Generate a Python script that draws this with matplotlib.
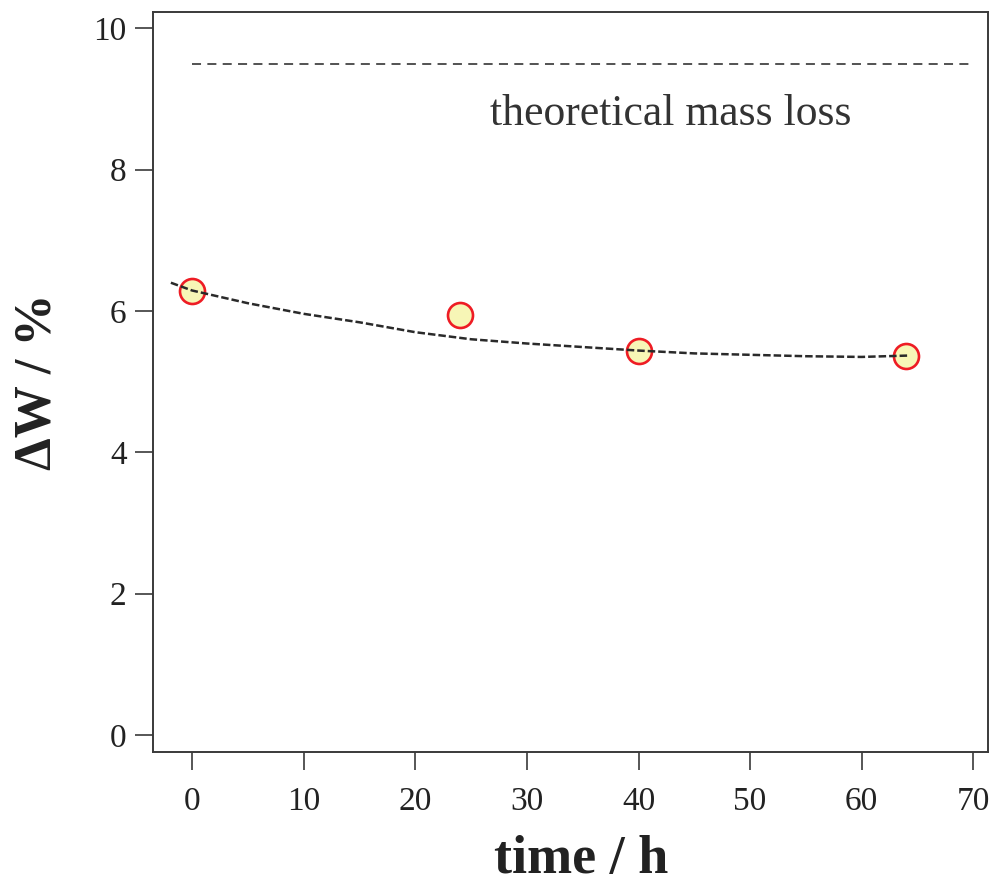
import matplotlib
matplotlib.use("Agg")
import matplotlib.pyplot as plt

# measured mass loss
time_h = [0, 24, 40, 64]
mass_loss = [6.28, 5.95, 5.43, 5.36]

# fitted trend
fit_time = [-1.9, 0, 5, 10, 15, 20, 25, 30, 35, 40, 45, 50, 55, 60, 64.3]
fit_loss = [6.40, 6.29, 6.11, 5.96, 5.84, 5.70, 5.60, 5.54, 5.49, 5.44, 5.40, 5.38, 5.36, 5.35, 5.37]

# theoretical value
theo_time = [0, 70]
theo_loss = [9.5, 9.5]

x_ticks = [0, 10, 20, 30, 40, 50, 60, 70]
y_ticks = [0, 2, 4, 6, 8, 10]

plt.rcParams["font.family"] = ["Liberation Serif", "DejaVu Serif"]

fig = plt.figure(figsize=(9.95, 8.84), dpi=100)
ax = fig.add_axes([0.1538, 0.1493, 0.839, 0.8371])

edge = "#3a3a3a"
ax.plot(theo_time, theo_loss, color="#444444", lw=1.3, dashes=(5, 3.5))
ax.plot(fit_time, fit_loss, color="#2a2a2a", lw=1.8, dashes=(3, 1.2), zorder=3)
ax.plot(time_h, mass_loss, "o", ms=18, mfc="#f7f6b6", mec="#ee1c24", mew=1.9, zorder=2)

ax.text(42.9, 8.63, "theoretical mass loss", fontsize=31.5, color="#333333",
        ha="center", va="baseline")

ax.set_xlim(-3.5, 71.3)
ax.set_ylim(-0.24, 10.23)
ax.set_xticks(x_ticks)
ax.set_yticks(y_ticks)

for s in ax.spines.values():
    s.set_color(edge)
    s.set_linewidth(1.4)
ax.tick_params(direction="out", length=13, width=1.2, color=edge,
               labelsize=24, labelcolor="#222222")
ax.tick_params(axis="x", pad=12)
ax.tick_params(axis="y", pad=6)

ax.set_xlabel("time / h", fontsize=39, fontweight="bold", color="#222222")
ax.set_ylabel("ΔW / %", fontsize=37.5, fontweight="bold", color="#222222")
ax.xaxis.set_label_coords(0.513, -0.112)
ax.yaxis.set_label_coords(-0.11, 0.5)

fig.savefig("out.png", dpi=100)
